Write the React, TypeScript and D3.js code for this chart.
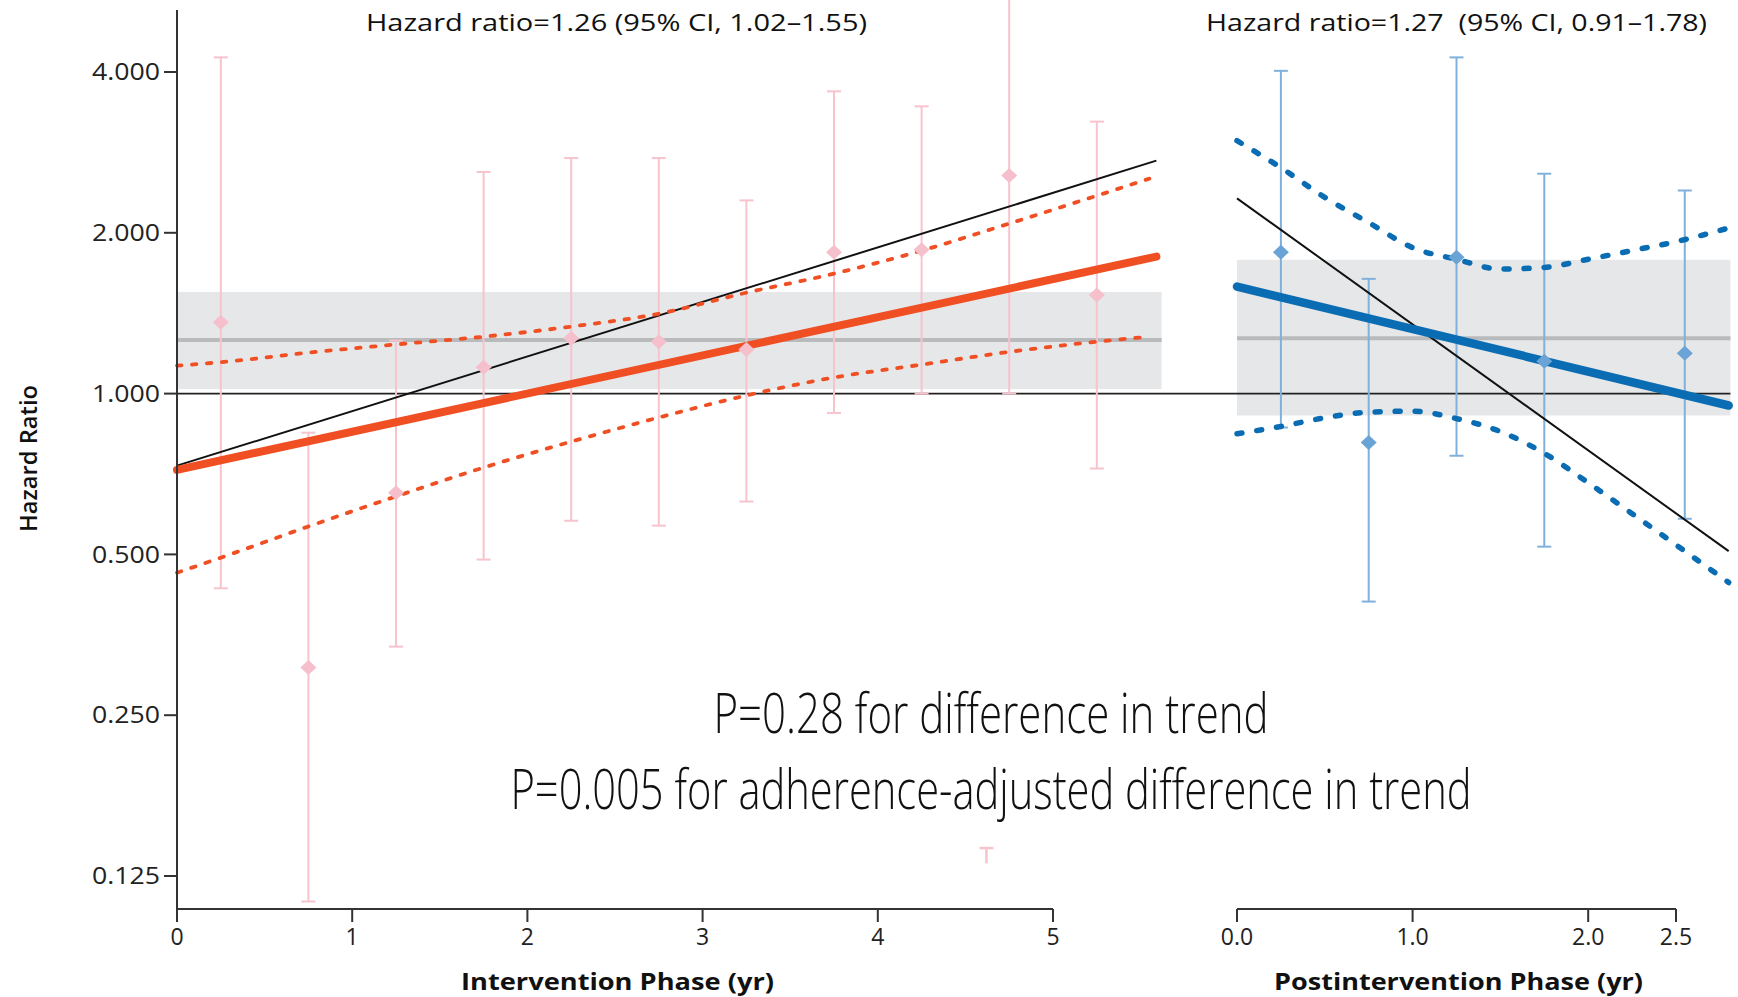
import React from "react";
import * as d3 from "d3";

// ---------- DATA ----------
// Overall hazard ratios shown as the gray bands
const interventionHR = { hr: 1.26, lo: 1.02, hi: 1.55 };
const postHR = { hr: 1.27, lo: 0.91, hi: 1.78 };

// Interval estimates (pink, intervention phase): time (yr), estimate, lower, upper
const interventionTimes = [0.25, 0.75, 1.25, 1.75, 2.25, 2.75, 3.25, 3.75, 4.25, 4.75, 5.25];
const interventionEst = [1.36, 0.307, 0.652, 1.12, 1.27, 1.25, 1.21, 1.84, 1.86, 2.56, 1.53];
const interventionLo = [0.432, 0.112, 0.336, 0.489, 0.578, 0.566, 0.628, 0.92, 1.0, 1.0, 0.724];
const interventionHi = [4.26, 0.845, 1.257, 2.6, 2.76, 2.76, 2.3, 3.68, 3.45, 5.6, 3.23];

// stray cap visible in the figure
const strayCap = { t: 4.62, lo: 0.132, hi: 0.141 };

// Interval estimates (blue, postintervention phase)
const postTimes = [0.25, 0.75, 1.25, 1.75, 2.55];
const postEst = [1.84, 0.81, 1.8, 1.15, 1.19];
const postLo = [0.864, 0.408, 0.765, 0.517, 0.583];
const postHi = [4.02, 1.64, 4.26, 2.58, 2.4];

// Trend lines, intervention phase
const intTrendT = [0, 5.59];
const intTrend = [0.72, 1.805];
const intAdjTrend = [0.733, 2.73];
const intBandT = [0, 0.25, 0.75, 1.25, 1.75, 2.25, 2.75, 3.25, 3.75, 4.25, 4.75, 5.25, 5.55];
const intBandUpper = [1.128, 1.145, 1.193, 1.236, 1.278, 1.335, 1.411, 1.545, 1.677, 1.852, 2.081, 2.347, 2.526];
const intBandLower = [0.462, 0.493, 0.564, 0.642, 0.727, 0.813, 0.902, 0.992, 1.072, 1.133, 1.197, 1.251, 1.278];

// Trend lines, postintervention phase
const postTrendT = [0, 2.8];
const postTrend = [1.586, 0.95];
const postAdjTrend = [2.32, 0.507];
const postBandT = [0, 0.25, 0.5, 0.75, 1.0, 1.25, 1.5, 1.75, 2.0, 2.25, 2.5, 2.8];
const postBandUpper = [2.975, 2.648, 2.33, 2.09, 1.876, 1.784, 1.711, 1.723, 1.784, 1.853, 1.925, 2.042];
const postBandLower = [0.841, 0.868, 0.901, 0.923, 0.927, 0.898, 0.849, 0.773, 0.681, 0.596, 0.521, 0.443];

// Axis ticks
const yTicks = [0.125, 0.25, 0.5, 1, 2, 4];
const intTicks = [0, 1, 2, 3, 4, 5];
const postTicks = [0, 1, 2, 2.5];

const intExtent = 5.62;
const postExtent = 2.81;

const pLine1 = "P=0.28 for difference in trend";
const pLine2 = "P=0.005 for adherence-adjusted difference in trend";

// ---------- STYLE ----------
const W = 1738;
const H = 997;
const ORANGE = "#f04e23";
const BLUE = "#0a6db3";
const PINK = "#f7c3cd";
const PINK_PT = "#f5bfcb";
const LBLUE = "#7fb1dc";
const LBLUE_PT = "#6aa3d5";
const BAND = "#e6e7e8";
const BANDLINE = "#b9babc";
const AXIS = "#333";
const FONT = "'Open Sans', 'DejaVu Sans', sans-serif";

export default function App() {
  const y = d3.scaleLog().base(2).domain([0.125, 4]).range([876, 72]);
  const xi = d3.scaleLinear().domain([0, 5]).range([177, 1053]);
  const xp = d3.scaleLinear().domain([0, 2.5]).range([1237, 1676]);
  const axisY = 909;

  const mkLine = (xs: d3.ScaleLinear<number, number>, curve = d3.curveLinear) =>
    d3
      .line<[number, number]>()
      .x((d) => xs(d[0]))
      .y((d) => y(d[1]))
      .curve(curve);

  const zip = (a: number[], b: number[]) => a.map((v, i) => [v, b[i]] as [number, number]);

  const li = mkLine(xi);
  const lp = mkLine(xp);
  const lic = mkLine(xi, d3.curveMonotoneX);
  const lpc = mkLine(xp, d3.curveMonotoneX);

  const diamond = (cx: number, cy: number, rx: number, ry: number) =>
    `M${cx},${cy - ry}L${cx + rx},${cy}L${cx},${cy + ry}L${cx - rx},${cy}Z`;

  const fmtY = d3.format(".3f");
  const fmtP = d3.format(".1f");

  const errorBars = (
    xs: d3.ScaleLinear<number, number>,
    ts: number[],
    lo: number[],
    hi: number[],
    barColor: string,
    key: string
  ) =>
    ts.map((t, i) => {
      const cx = xs(t);
      return (
        <g key={key + i}>
          <line x1={cx} x2={cx} y1={y(lo[i])} y2={y(hi[i])} stroke={barColor} strokeWidth={2} />
          <line x1={cx - 7} x2={cx + 7} y1={y(lo[i])} y2={y(lo[i])} stroke={barColor} strokeWidth={2} />
          <line x1={cx - 7} x2={cx + 7} y1={y(hi[i])} y2={y(hi[i])} stroke={barColor} strokeWidth={2} />
        </g>
      );
    });

  const points = (
    xs: d3.ScaleLinear<number, number>,
    ts: number[],
    est: number[],
    color: string,
    key: string
  ) => ts.map((t, i) => <path key={key + i} d={diamond(xs(t), y(est[i]), 8, 7.5)} fill={color} />);

  const hrText = (o: { hr: number; lo: number; hi: number }, sep: string) =>
    `Hazard ratio=${o.hr.toFixed(2)}${sep}(95% CI, ${o.lo.toFixed(2)}\u2013${o.hi.toFixed(2)})`;

  // condensed text: horizontal squeeze via transform so the drawn box is real
  const SQ = 0.62;
  const condensed = (s: string, cx: number, base: number, width: number) => (
    <text
      transform={`translate(${cx},${base}) scale(${SQ},1)`}
      textAnchor="middle"
      fontSize={56}
      fontWeight={350}
      fill="#111"
      textLength={width / SQ}
      lengthAdjust="spacingAndGlyphs"
      fontFamily="'Open Sans', 'DejaVu Sans', sans-serif"
    >
      {s}
    </text>
  );

  return (
    <svg
      width={W}
      height={H}
      style={{ position: "absolute", left: 0, top: 0, background: "#fff" }}
      fontFamily={FONT}
    >
      {/* gray bands */}
      <rect
        x={xi(0)}
        width={xi(intExtent) - xi(0)}
        y={y(interventionHR.hi)}
        height={y(interventionHR.lo) - y(interventionHR.hi)}
        fill={BAND}
      />
      <rect
        x={xp(0)}
        width={xp(postExtent) - xp(0)}
        y={y(postHR.hi)}
        height={y(postHR.lo) - y(postHR.hi)}
        fill={BAND}
      />
      <line x1={xi(0)} x2={xi(intExtent)} y1={y(interventionHR.hr)} y2={y(interventionHR.hr)} stroke={BANDLINE} strokeWidth={4} />
      <line x1={xp(0)} x2={xp(postExtent)} y1={y(postHR.hr)} y2={y(postHR.hr)} stroke={BANDLINE} strokeWidth={4} />

      {/* reference line at 1 */}
      <line x1={xi(0)} x2={xp(postExtent)} y1={y(1)} y2={y(1)} stroke="#222" strokeWidth={1.8} />

      {/* error bars */}
      {errorBars(xi, interventionTimes, interventionLo, interventionHi, PINK, "ie")}
      {errorBars(xp, postTimes, postLo, postHi, LBLUE, "pe")}
      <g>
        <line x1={xi(strayCap.t)} x2={xi(strayCap.t)} y1={y(strayCap.lo)} y2={y(strayCap.hi)} stroke={PINK} strokeWidth={2.5} />
        <line x1={xi(strayCap.t) - 7} x2={xi(strayCap.t) + 7} y1={y(strayCap.hi)} y2={y(strayCap.hi)} stroke={PINK} strokeWidth={2.5} />
      </g>

      {/* adherence-adjusted (black) trend lines */}
      <path d={li(zip(intTrendT, intAdjTrend)) || ""} fill="none" stroke="#111" strokeWidth={2} />
      <path d={lp(zip(postTrendT, postAdjTrend)) || ""} fill="none" stroke="#111" strokeWidth={2} />

      {/* confidence bands */}
      <path d={lic(zip(intBandT, intBandUpper)) || ""} fill="none" stroke={ORANGE} strokeWidth={3.8} strokeDasharray="4.5 10.5" strokeLinecap="round" />
      <path d={lic(zip(intBandT, intBandLower)) || ""} fill="none" stroke={ORANGE} strokeWidth={3.8} strokeDasharray="4.5 10.5" strokeLinecap="round" />
      <path d={lpc(zip(postBandT, postBandUpper)) || ""} fill="none" stroke={BLUE} strokeWidth={5.5} strokeDasharray="5 15" strokeLinecap="round" />
      <path d={lpc(zip(postBandT, postBandLower)) || ""} fill="none" stroke={BLUE} strokeWidth={5.5} strokeDasharray="5 15" strokeLinecap="round" />

      {/* trend lines */}
      <path d={li(zip(intTrendT, intTrend)) || ""} fill="none" stroke={ORANGE} strokeWidth={8} strokeLinecap="round" />
      <path d={lp(zip(postTrendT, postTrend)) || ""} fill="none" stroke={BLUE} strokeWidth={8.5} strokeLinecap="round" />

      {/* point estimates */}
      {points(xi, interventionTimes, interventionEst, PINK_PT, "ip")}
      {points(xp, postTimes, postEst, LBLUE_PT, "pp")}

      {/* axes */}
      <line x1={xi(0)} x2={xi(0)} y1={10} y2={axisY} stroke={AXIS} strokeWidth={2} />
      {yTicks.map((t) => (
        <g key={"yt" + t}>
          <line x1={xi(0) - 13} x2={xi(0)} y1={y(t)} y2={y(t)} stroke={AXIS} strokeWidth={2} />
          <text
            x={xi(0) - 17}
            y={y(t)}
            dy="0.36em"
            textAnchor="end"
            fontSize={23}
            fill="#222"
            textLength={68}
            lengthAdjust="spacingAndGlyphs"
          >
            {fmtY(t)}
          </text>
        </g>
      ))}
      <line x1={xi(0) - 1} x2={xi(5)} y1={axisY} y2={axisY} stroke={AXIS} strokeWidth={2} />
      {intTicks.map((t) => (
        <g key={"xt" + t}>
          <line x1={xi(t)} x2={xi(t)} y1={axisY} y2={axisY + 13} stroke={AXIS} strokeWidth={2} />
          <text x={xi(t)} y={937} dy="0.36em" textAnchor="middle" fontSize={23} fill="#222">
            {t}
          </text>
        </g>
      ))}
      <line x1={xp(0)} x2={xp(2.5)} y1={axisY} y2={axisY} stroke={AXIS} strokeWidth={2} />
      {postTicks.map((t) => (
        <g key={"pt" + t}>
          <line x1={xp(t)} x2={xp(t)} y1={axisY} y2={axisY + 13} stroke={AXIS} strokeWidth={2} />
          <text x={xp(t)} y={937} dy="0.36em" textAnchor="middle" fontSize={23} fill="#222">
            {fmtP(t)}
          </text>
        </g>
      ))}

      {/* axis titles */}
      <text x={461} y={990} fontSize={24} fontWeight={700} fill="#111" textLength={313} lengthAdjust="spacingAndGlyphs">
        Intervention Phase (yr)
      </text>
      <text x={1274} y={990} fontSize={24} fontWeight={700} fill="#111" textLength={369} lengthAdjust="spacingAndGlyphs">
        Postintervention Phase (yr)
      </text>
      <text
        transform="translate(37,532) rotate(-90)"
        fontSize={24}
        fontWeight={600}
        fill="#111"
        textLength={147}
        lengthAdjust="spacingAndGlyphs"
      >
        Hazard Ratio
      </text>

      {/* hazard ratio titles */}
      <text x={366} y={31} fontSize={24} fill="#111" textLength={501} lengthAdjust="spacingAndGlyphs">
        {hrText(interventionHR, " ")}
      </text>
      <text x={1206} y={31} fontSize={24} fill="#111" textLength={501} lengthAdjust="spacingAndGlyphs" style={{ whiteSpace: "pre" }}>
        {hrText(postHR, "  ")}
      </text>

      {/* P values */}
      {condensed(pLine1, 991, 733, 555)}
      {condensed(pLine2, 991, 809, 961)}
    </svg>
  );
}
